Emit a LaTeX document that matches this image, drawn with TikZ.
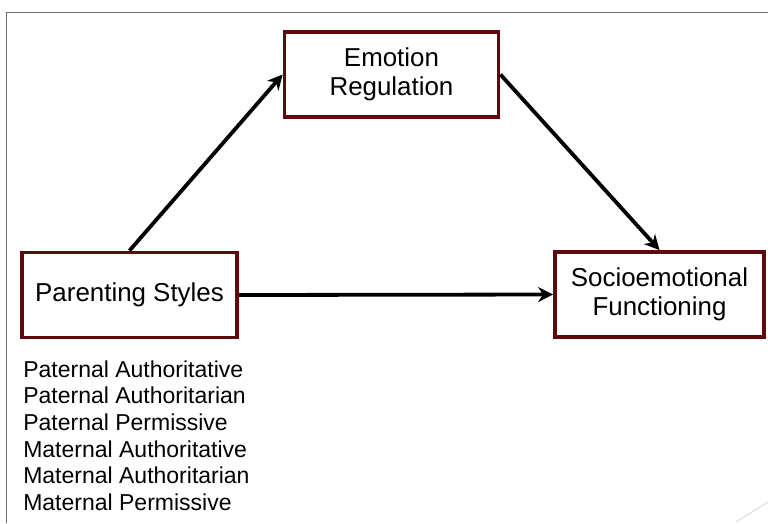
\documentclass[tikz,border=0pt]{standalone}
\usepackage{fontspec}
\setmainfont{Liberation Sans}
\usepackage{xcolor}
\usetikzlibrary{arrows.meta, positioning}

\definecolor{boxred}{HTML}{5E0A0A}
\definecolor{framegray}{HTML}{6E6E6E}

\begin{document}
\begin{tikzpicture}[x=1pt, y=-1pt, node distance=20pt,
    varbox/.style={draw=boxred, line width=3.8pt, fill=white, align=center,
      font=\fontsize{25.9}{29}\selectfont, minimum height=85pt, inner sep=0pt},
    link/.style={line width=3.8pt, -{Stealth[length=15pt, width=15pt]}}]
  \useasboundingbox (0,0) rectangle (768,523);
  % slide frame
  \draw[framegray, line width=1pt] (6,523) -- (6,12) -- (768,12);
  \draw[black!12, line width=1.2pt] (736,522) -- (768,502);

  \node[varbox, minimum width=214pt] (er) at (391.5,74.5) {Emotion\\Regulation};
  \node[varbox, minimum width=215pt] (ps) at (129.5,295) {Parenting Styles};
  \node[varbox, minimum width=209pt] (sf) at (659.5,294.5) {Socioemotional\\Functioning};

  \node[anchor=north west, align=left, inner sep=0pt,
        font=\fontsize{23}{26.6}\selectfont,
        below right=21pt and 3pt of ps.south west] (lst)
    {Paternal Authoritative\\Paternal Authoritarian\\Paternal Permissive\\
     Maternal Authoritative\\Maternal Authoritarian\\Maternal Permissive};

  \draw[link] (ps.north) -- (er.west);
  \draw[link] (er.east) -- (sf.north);
  \draw[link] (ps.east) -- (sf.west);
\end{tikzpicture}
\end{document}
